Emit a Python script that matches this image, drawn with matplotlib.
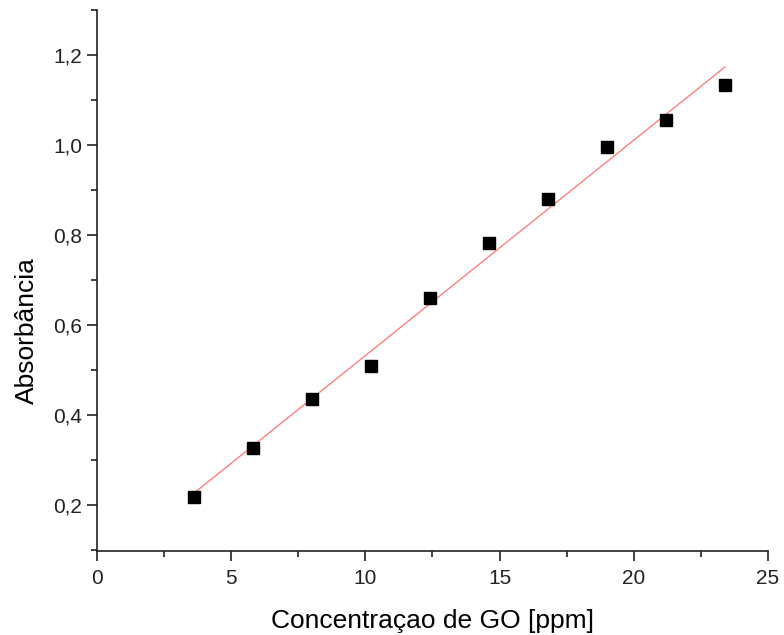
import numpy as np
import matplotlib
matplotlib.use("Agg")
import matplotlib.pyplot as plt
from matplotlib.ticker import MultipleLocator, FuncFormatter

# Dados da curva de calibracao
concentracao = [3.6, 5.8, 8.0, 10.2, 12.4, 14.6, 16.8, 19.0, 21.2, 23.4]
absorbancia = [0.218, 0.327, 0.436, 0.509, 0.660, 0.782, 0.880, 0.996, 1.056, 1.133]

plt.rcParams['font.family'] = ['Liberation Sans', 'DejaVu Sans']

fig = plt.figure(figsize=(7.84, 6.35), dpi=100)
ax = fig.add_axes([0.1237, 0.1323, 0.8559, 0.852])

# ajuste linear
coef = np.polyfit(concentracao, absorbancia, 1)
x_fit = np.array([concentracao[0], concentracao[-1]])
ax.plot(x_fit, np.polyval(coef, x_fit), color="#ff8080", lw=1.0, zorder=2)

ax.plot(concentracao, absorbancia, 's', color="black", ms=8.5, zorder=3)

ax.set_xlim(0, 25)
ax.set_ylim(0.098, 1.3)
ax.xaxis.set_major_locator(MultipleLocator(5))
ax.xaxis.set_minor_locator(MultipleLocator(2.5))
ax.yaxis.set_major_locator(MultipleLocator(0.2))
ax.yaxis.set_minor_locator(MultipleLocator(0.1))
ax.yaxis.set_major_formatter(FuncFormatter(lambda v, p: f"{v:.1f}".replace(".", ",")))

for s in ["top", "right"]:
    ax.spines[s].set_visible(False)
for s in ["left", "bottom"]:
    ax.spines[s].set_linewidth(1.2)
    ax.spines[s].set_color("#222222")

ax.tick_params(which="major", direction="out", length=7, width=1.2, labelsize=15, colors="#222222")
ax.tick_params(which="minor", direction="out", length=4, width=1.2, colors="#222222")
ax.tick_params(axis="x", pad=6)

ax.set_xlabel("Concentraçao de GO [ppm]", fontsize=19, labelpad=15)
ax.set_ylabel("Absorbância", fontsize=19)
ax.yaxis.set_label_coords(-0.087, 0.408)

fig.savefig("out.png", dpi=100)
